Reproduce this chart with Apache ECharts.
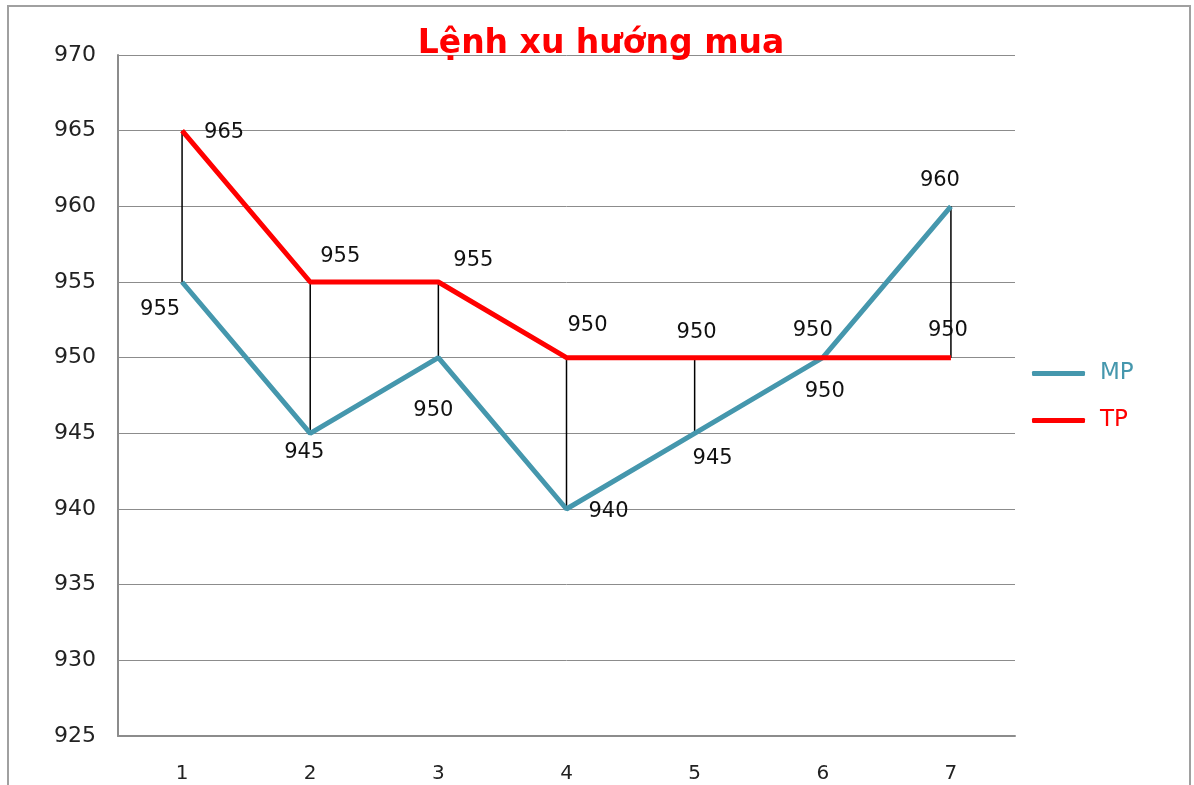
<!DOCTYPE html>
<html>
<head>
<meta charset="utf-8">
<script src="https://cdn.jsdelivr.net/npm/echarts@6/dist/echarts.min.js"></script>
<style>
  html, body { margin: 0; padding: 0; background: #fff; }
  #chart { width: 1194px; height: 785px; }
</style>
</head>
<body>
<div id="chart"></div>
<script>
// Sessions and the two price series
const categories = ['1', '2', '3', '4', '5', '6', '7'];
const mpValues = [955, 945, 950, 940, 945, 950, 960];
const tpValues = [965, 955, 955, 950, 950, 950, 950];
const yTicks = { min: 925, max: 970, step: 5 };

// Label offsets (px) from each point, keeping labels clear of the lines
const mpLabelOffset = [[-22, 28], [-6, 19], [-5, 53], [42, 3], [18, 25], [2, 34], [-11, -26]];
const tpLabelOffset = [[42, 2], [30, -25], [35, -21], [21, -32], [2, -25], [-10, -27], [-3, -27]];

const FONT = 'DejaVu Sans';
const TEAL = '#4597ad';
const RED = '#ff0000';

function withLabels(values, offsets) {
  return values.map((v, i) => ({
    value: v,
    label: { offset: offsets[i] }
  }));
}

const valueLabel = {
  show: true,
  position: 'inside',
  align: 'center',
  verticalAlign: 'middle',
  fontFamily: FONT,
  fontSize: 21,
  color: '#111'
};

const chart = echarts.init(document.getElementById('chart'), null, { renderer: 'canvas' });

chart.setOption({
  animation: false,
  backgroundColor: '#fff',
  title: {
    text: 'Lệnh xu hướng mua',
    left: 596,
    textAlign: 'center',
    top: 23,
    textStyle: { fontFamily: FONT, fontSize: 33, fontWeight: 'bold', color: RED }
  },
  legend: {
    orient: 'vertical',
    left: 1027,
    top: 357,
    itemWidth: 53,
    itemHeight: 5,
    itemGap: 24,
    icon: 'roundRect',
    textStyle: { fontFamily: FONT, fontSize: 23, padding: [0, 0, 0, 10] },
    data: [
      { name: 'MP', textStyle: { color: TEAL } },
      { name: 'TP', textStyle: { color: RED } }
    ]
  },
  grid: { left: 118, right: 179, top: 55, bottom: 49 },
  xAxis: {
    type: 'category',
    data: categories,
    boundaryGap: true,
    axisLine: { lineStyle: { color: '#8c8c8c', width: 2 } },
    axisTick: { show: false },
    axisLabel: { fontFamily: FONT, fontSize: 20, color: '#222', margin: 28 },
    splitLine: { show: false }
  },
  yAxis: {
    type: 'value',
    min: yTicks.min,
    max: yTicks.max,
    interval: yTicks.step,
    axisLine: { show: true, lineStyle: { color: '#8c8c8c', width: 2 } },
    axisTick: { show: false },
    axisLabel: { fontFamily: FONT, fontSize: 22, color: '#222', margin: 22 },
    splitLine: { lineStyle: { color: '#8c8c8c', width: 1 } }
  },
  series: [
    {
      // vertical high-low connectors between the two series
      type: 'custom',
      name: 'hl',
      silent: true,
      z: 1,
      data: categories.map((c, i) => [i, mpValues[i], tpValues[i]]),
      encode: { x: 0, y: [1, 2] },
      renderItem: function (params, api) {
        const a = api.coord([api.value(0), api.value(1)]);
        const b = api.coord([api.value(0), api.value(2)]);
        return {
          type: 'line',
          shape: { x1: a[0], y1: a[1], x2: b[0], y2: b[1] },
          style: { stroke: '#000', lineWidth: 1.5 }
        };
      }
    },
    {
      name: 'MP',
      type: 'line',
      z: 3,
      data: withLabels(mpValues, mpLabelOffset),
      symbol: 'circle',
      symbolSize: 0.1,
      showSymbol: true,
      color: TEAL,
      lineStyle: { color: TEAL, width: 5 },
      label: valueLabel
    },
    {
      name: 'TP',
      type: 'line',
      z: 4,
      data: withLabels(tpValues, tpLabelOffset),
      symbol: 'circle',
      symbolSize: 0.1,
      showSymbol: true,
      color: RED,
      lineStyle: { color: RED, width: 5 },
      label: valueLabel
    }
  ],
  graphic: [
    {
      type: 'rect',
      shape: { x: 8, y: 6, width: 1182, height: 800 },
      style: { fill: 'none', stroke: '#a0a0a0', lineWidth: 2 },
      silent: true
    }
  ]
});
</script>
</body>
</html>
